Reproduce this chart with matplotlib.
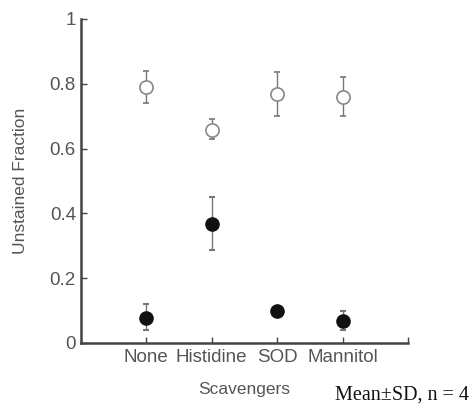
import matplotlib.pyplot as plt

# Data
categories = ['None', 'Histidine', 'SOD', 'Mannitol']
open_mean = [0.79, 0.657, 0.77, 0.76]
open_lo = [0.74, 0.63, 0.70, 0.70]
open_hi = [0.84, 0.69, 0.837, 0.82]
filled_mean = [0.077, 0.367, 0.099, 0.067]
filled_lo = [0.04, 0.287, 0.09, 0.04]
filled_hi = [0.12, 0.45, 0.11, 0.10]

plt.rcParams['font.family'] = ['Liberation Sans', 'DejaVu Sans']
gray = '#555555'

fig = plt.figure(figsize=(4.7, 4.04), dpi=100)
ax = fig.add_axes([0.172, 0.151, 0.696, 0.802])
x = list(range(1, len(categories) + 1))

err_open = [[m - l for m, l in zip(open_mean, open_lo)], [h - m for m, h in zip(open_mean, open_hi)]]
err_filled = [[m - l for m, l in zip(filled_mean, filled_lo)], [h - m for m, h in zip(filled_mean, filled_hi)]]

ax.errorbar(x, open_mean, yerr=err_open, fmt='o', color='#777777', ecolor='#777777',
            markerfacecolor='white', markeredgecolor='#888888', markersize=9.5,
            markeredgewidth=1.2, elinewidth=1, capsize=2.5, capthick=1.5)
ax.errorbar(x, filled_mean, yerr=err_filled, fmt='o', color='#111111', ecolor='#777777',
            markerfacecolor='#111111', markeredgecolor='#111111', markersize=9.5,
            elinewidth=1, capsize=2.5, capthick=1.5)

ax.set_xlim(0, 5)
ax.set_ylim(0, 1)
ax.set_xticks(x + [5])
ax.set_xticklabels(categories + [''])
ax.set_yticks([0, 0.2, 0.4, 0.6, 0.8, 1])
ax.set_yticklabels(['0', '0.2', '0.4', '0.6', '0.8', '1'])
for s in ['top', 'right']:
    ax.spines[s].set_visible(False)
for s in ['left', 'bottom']:
    ax.spines[s].set_color('#444444')
    ax.spines[s].set_linewidth(1.8)
ax.tick_params(direction='in', length=4, width=1, colors='#444444', labelcolor=gray, labelsize=13.5)
ax.tick_params(axis='x', pad=4)
ax.set_ylabel('Unstained Fraction', color=gray, fontsize=12.5, labelpad=16)
ax.set_xlabel('Scavengers', color=gray, fontsize=12.5, labelpad=12)
fig.text(0.998, 0.012, 'Mean±SD, n = 4', ha='right', va='baseline',
         family=['Liberation Serif', 'DejaVu Serif'], fontsize=14.5, color='#111111')

fig.savefig('out.png', dpi=100)
